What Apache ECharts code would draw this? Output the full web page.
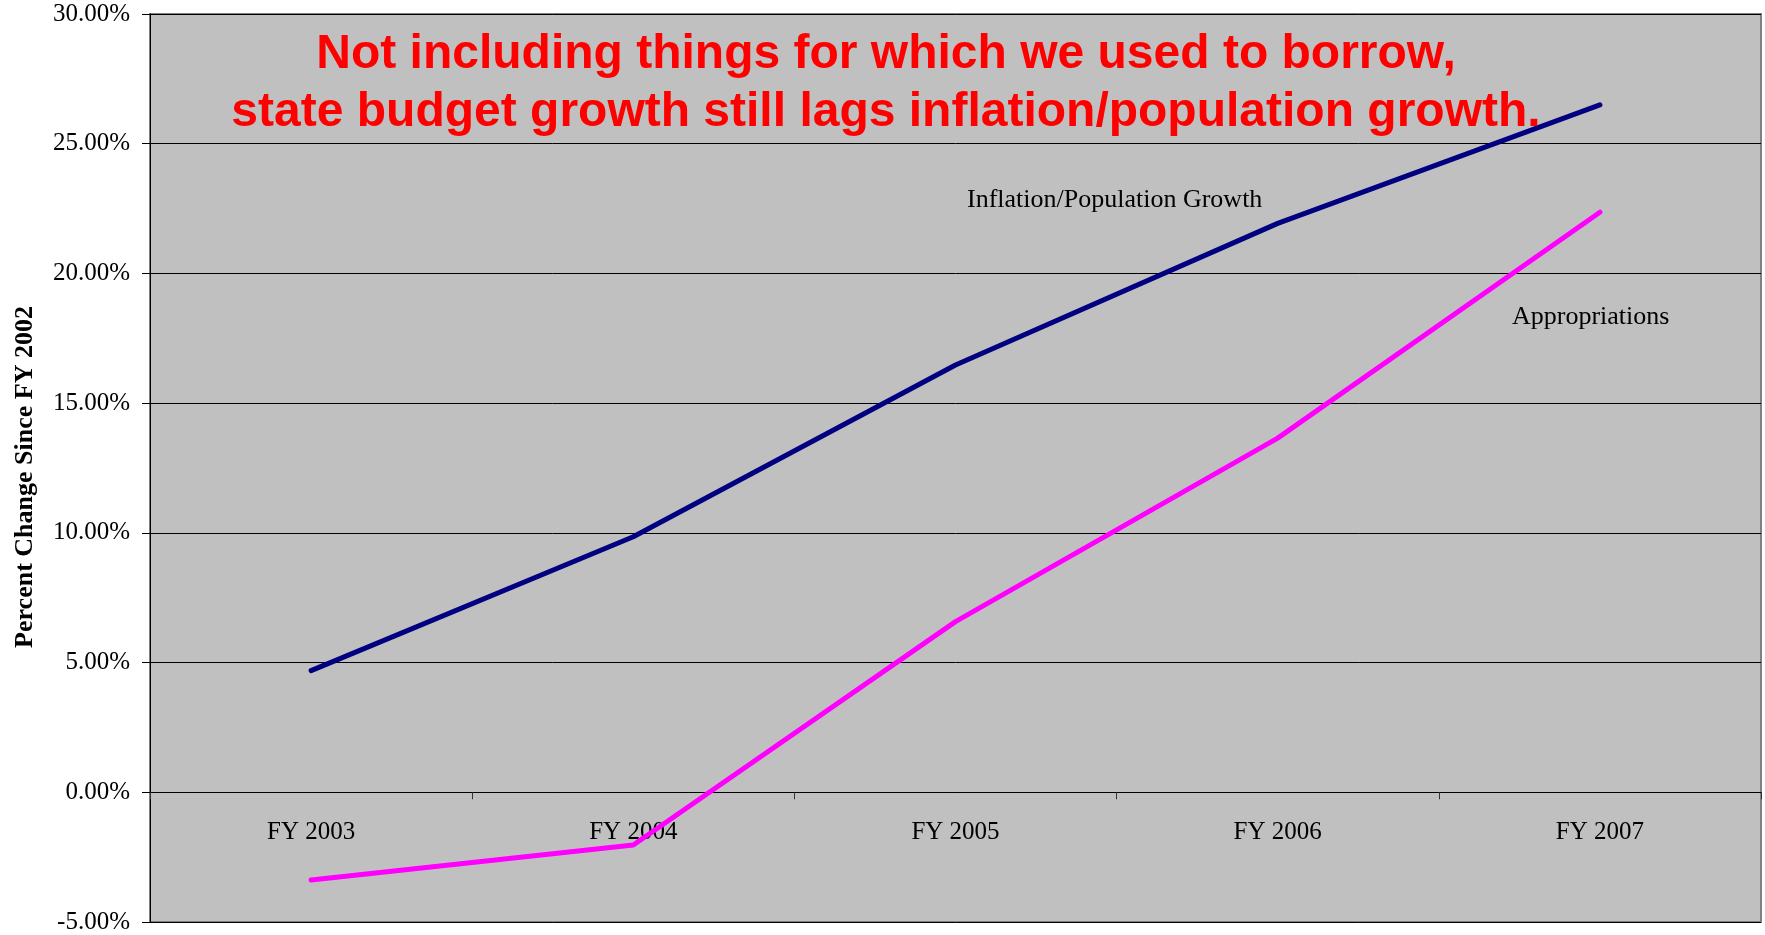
<!DOCTYPE html>
<html>
<head>
<meta charset="utf-8">
<script src="https://cdn.jsdelivr.net/npm/echarts@6/dist/echarts.min.js"></script>
<style>
html,body{margin:0;padding:0;background:#fff;}
#chart{width:1765px;height:935px;}
</style>
</head>
<body>
<div id="chart"></div>
<script>
const categories = ['FY 2003', 'FY 2004', 'FY 2005', 'FY 2006', 'FY 2007'];
const inflationPopulation = [4.69, 9.85, 16.47, 21.93, 26.5];
const appropriations = [-3.38, -2.03, 6.58, 13.65, 22.36];
const titleLines = ['Not including things for which we used to borrow,', 'state budget growth still lags inflation/population growth.'];
const yAxisName = 'Percent Change Since FY 2002';
const seriesNames = ['Inflation/Population Growth', 'Appropriations'];

const Y_MIN = -5, Y_MAX = 30;
const GRID_TOP = 14, GRID_BOTTOM = 13, H = 935;
const plotH = H - GRID_TOP - GRID_BOTTOM;
const zeroOffset = -plotH * (0 - Y_MIN) / (Y_MAX - Y_MIN);

const chart = echarts.init(document.getElementById('chart'));
const serif = '"Liberation Serif", "Times New Roman", serif';
chart.setOption({
  animation: false,
  backgroundColor: '#ffffff',
  grid: {
    left: 150, right: 4, top: GRID_TOP, bottom: GRID_BOTTOM,
    containLabel: false, outerBoundsMode: 'none',
    show: true, backgroundColor: '#C0C0C0', borderColor: '#808080', borderWidth: 2
  },
  title: {
    text: titleLines.join('\n'),
    left: 881, top: 21, textAlign: 'center',
    textStyle: {
      fontFamily: '"Liberation Sans", Arial, sans-serif', fontWeight: 'bold',
      fontSize: 48, lineHeight: 58, color: '#FF0000'
    }
  },
  xAxis: {
    type: 'category',
    data: categories,
    boundaryGap: true,
    offset: zeroOffset,
    axisLine: { onZero: false, lineStyle: { color: '#000', width: 1 } },
    axisTick: { show: true, length: 7, lineStyle: { color: '#333' } },
    axisLabel: { margin: 28, fontFamily: serif, fontSize: 25, color: '#000' },
    splitLine: { show: false }
  },
  yAxis: {
    type: 'value',
    min: Y_MIN, max: Y_MAX, interval: 5,
    name: yAxisName,
    nameLocation: 'middle',
    nameRotate: 90,
    nameGap: 112,
    nameTextStyle: { fontFamily: serif, fontWeight: 'bold', fontSize: 26, color: '#000', padding: [0, 18, 0, 0] },
    axisLine: { show: true, lineStyle: { color: '#000', width: 1 } },
    axisTick: { show: true, length: 8, lineStyle: { color: '#000' } },
    axisLabel: {
      margin: 20, fontFamily: serif, fontSize: 25, color: '#000',
      formatter: v => v.toFixed(2) + '%'
    },
    splitLine: { show: true, lineStyle: { color: '#000', width: 1 } }
  },
  series: [
    {
      name: seriesNames[0], type: 'line', data: inflationPopulation,
      showSymbol: false, symbol: 'none',
      lineStyle: { color: '#000080', width: 5, cap: 'round', join: 'round' },
      z: 3
    },
    {
      name: seriesNames[1], type: 'line', data: appropriations,
      showSymbol: false, symbol: 'none',
      lineStyle: { color: '#FF00FF', width: 5, cap: 'round', join: 'round' },
      z: 3
    }
  ],
  graphic: [
    {
      type: 'text', left: 1115 - 148, top: 202 - 15,
      style: { text: seriesNames[0], font: '26px ' + serif, fill: '#000' }
    },
    {
      type: 'text', left: 1512, top: 319 - 15,
      style: { text: seriesNames[1], font: '26px ' + serif, fill: '#000' }
    }
  ]
});
</script>
</body>
</html>
